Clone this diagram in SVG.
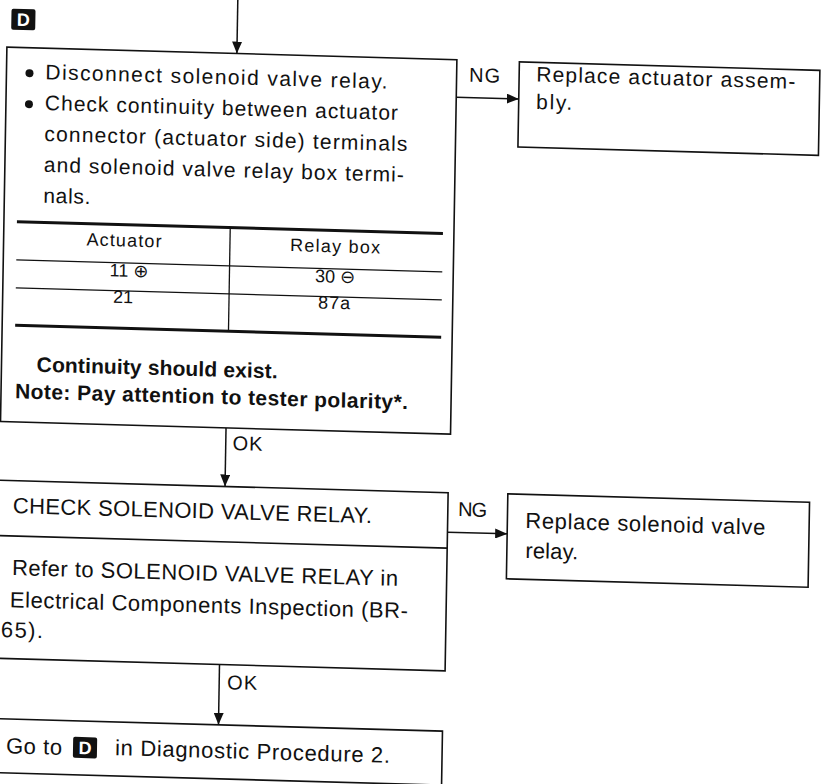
<svg xmlns="http://www.w3.org/2000/svg" width="827" height="784" viewBox="0 0 827 784">
<style>
  text { font-family: "Liberation Sans", Arial, Helvetica, "DejaVu Sans", sans-serif; fill: #111; }
  .box { fill: none; stroke: #111; stroke-width: 1.6; }
  .thin { fill: none; stroke: #111; stroke-width: 1.3; }
  .thick { fill: none; stroke: #111; stroke-width: 3; }
  .conn { fill: none; stroke: #111; stroke-width: 1.5; marker-end: url(#arr); }
  .t20 { font-size: 20px; }
  .t21 { font-size: 21px; }
  .t22 { font-size: 22px; }
  .t18 { font-size: 18px; }
  .b { font-weight: bold; }
  .mid { text-anchor: middle; }
  .icon-bg { fill: #111; }
  .icon-tx { fill: #fff; font-weight: bold; font-size: 18px; text-anchor: middle; }
  .bullet { fill: #111; }
</style>
<defs>
  <marker id="arr" viewBox="0 0 12 10" refX="12" refY="5" markerWidth="12" markerHeight="10" orient="auto" markerUnits="userSpaceOnUse">
    <path d="M0,0 L12,5 L0,10 z" fill="#111"/>
  </marker>
</defs>
<rect x="0" y="0" width="827" height="784" fill="#fff"/>
<g transform="matrix(1 0.028 -0.017 1 6.8 -6.44)">
  <g id="connectors">
    <path class="conn" d="M231,-8 V53.5"/>
    <path class="conn" d="M451,91 H513.5"/>
    <text class="t20" x="463.6" y="75.3" textLength="31">NG</text>
    <path class="conn" d="M226.5,428 V486.6"/>
    <text class="t20" x="233.3" y="450" textLength="30">OK</text>
    <path class="conn" d="M449.6,526 H509.3"/>
    <text class="t20" x="460" y="509.6" textLength="29">NG</text>
    <path class="conn" d="M224,664.7 V725"/>
    <text class="t20" x="231.9" y="689.1" textLength="30">OK</text>
  </g>

  <g id="label-d-top">
    <rect class="icon-bg" x="5" y="15" width="24" height="21" rx="2"/>
    <text class="icon-tx" x="17" y="32">D</text>
  </g>

  <g id="node-check-continuity">
    <rect class="box" x="1" y="53.5" width="450" height="374.5"/>
    <circle class="bullet" cx="24" cy="79" r="4"/>
    <text class="t21" x="40" y="84.5" textLength="342">Disconnect solenoid valve relay.</text>
    <circle class="bullet" cx="24" cy="110" r="4"/>
    <text class="t21" x="40" y="115.4" textLength="353">Check continuity between actuator</text>
    <text class="t21" x="40" y="146.3" textLength="363">connector (actuator side) terminals</text>
    <text class="t21" x="40" y="177.2" textLength="360">and solenoid valve relay box termi-</text>
    <text class="t21" x="40" y="208.1" textLength="47">nals.</text>
    <path class="thick" d="M14,227.7 H440"/>
    <path class="thin" d="M14,266 H440"/>
    <path class="thin" d="M14,294 H440"/>
    <path class="thick" d="M14,331.3 H440"/>
    <path class="thin" d="M227.3,227.7 V331.3"/>
    <text class="t18 mid" x="121.4" y="249.5" textLength="75">Actuator</text>
    <text class="t18 mid" x="332.5" y="249.5" textLength="90">Relay box</text>
    <text class="t18 mid" x="126.9" y="279.8">11 ⊕</text>
    <text class="t18 mid" x="333" y="279.8">30 ⊖</text>
    <text class="t18 mid" x="121.3" y="306">21</text>
    <text class="t18 mid" x="332.5" y="306" textLength="32">87a</text>
    <text class="t21 b" x="36.2" y="377.1" textLength="241">Continuity should exist.</text>
    <text class="t21 b" x="15" y="404.3" textLength="393">Note: Pay attention to tester polarity*.</text>
  </g>

  <g id="node-replace-actuator">
    <rect class="box" x="513.5" y="54" width="300.5" height="85"/>
    <text class="t21" x="530.6" y="73" textLength="259">Replace actuator assem-</text>
    <text class="t21" x="531" y="100.5" textLength="36">bly.</text>
  </g>

  <g id="node-check-relay">
    <rect class="box" x="-8" y="486.6" width="457.6" height="178.1"/>
    <path class="box" d="M-8,542 H449.6"/>
    <text class="t22" x="14.9" y="519.1" textLength="359">CHECK SOLENOID VALVE RELAY.</text>
    <text class="t22" x="15" y="581.1" textLength="386">Refer to SOLENOID VALVE RELAY in</text>
    <text class="t22" x="13.5" y="613.2" textLength="398">Electrical Components Inspection (BR-</text>
    <text class="t22" x="5" y="643.4" textLength="42">65).</text>
  </g>

  <g id="node-replace-relay">
    <rect class="box" x="509.3" y="486" width="301.7" height="85"/>
    <text class="t22" x="527.2" y="519.7" textLength="240">Replace solenoid valve</text>
    <text class="t22" x="527.7" y="549.7" textLength="53">relay.</text>
  </g>

  <g id="node-goto">
    <rect class="box" x="-8" y="725" width="456" height="54"/>
    <text class="t22" x="12" y="759.4" textLength="56">Go to</text>
    <rect class="icon-bg" x="79" y="741" width="24" height="21" rx="2"/>
    <text class="icon-tx" x="91" y="758">D</text>
    <text class="t22" x="121" y="758.2" textLength="275">in Diagnostic Procedure 2.</text>
  </g>
</g>
</svg>
